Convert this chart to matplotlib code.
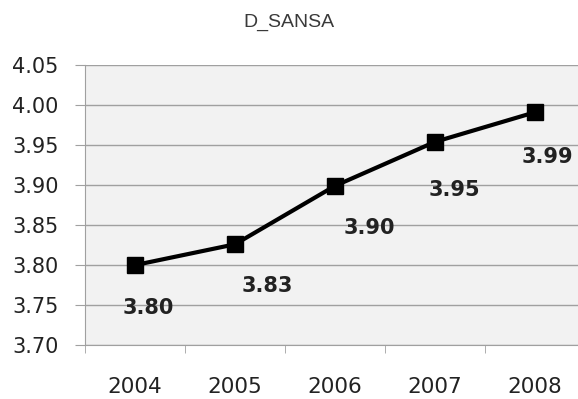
import matplotlib.pyplot as plt

years = ["2004", "2005", "2006", "2007", "2008"]
values = [3.80, 3.826, 3.899, 3.954, 3.991]
labels = ["3.80", "3.83", "3.90", "3.95", "3.99"]
# label offsets (points)
label_dx = [9.4, 23, 25, 13.7, 8.6]
label_dy = [-31, -30, -30, -35, -32]

fig = plt.figure(figsize=(5.78, 3.99), dpi=100)
ax = fig.add_axes([0.147, 0.135, 0.853, 0.702])
ax.set_facecolor("#f2f2f2")

x = list(range(len(years)))
ax.plot(x, values, color="black", lw=3, marker="s", markersize=12, zorder=3)

for xi, v, lab, dx, dy in zip(x, values, labels, label_dx, label_dy):
    ax.annotate(lab, (xi, v), xytext=(dx, dy), textcoords="offset points",
                ha="center", va="center", fontsize=15, fontweight="bold",
                family="DejaVu Sans", color="#222222")

ax.set_ylim(3.70, 4.05)
ax.set_yticks([3.70, 3.75, 3.80, 3.85, 3.90, 3.95, 4.00, 4.05])
ax.set_yticklabels([f"{t:.2f}" for t in ax.get_yticks()])
ax.set_xlim(-0.5, 4.43)
ax.set_xticks(x)
ax.set_xticklabels(years)
ax.set_xticks([-0.5, 0.5, 1.5, 2.5, 3.5], minor=True)

ax.grid(axis="y", color="#a0a0a0", lw=1)
ax.set_axisbelow(True)
for s in ["top", "right"]:
    ax.spines[s].set_visible(False)
for s in ["left", "bottom"]:
    ax.spines[s].set_color("#a0a0a0")

ax.tick_params(axis="y", length=7, color="#a0a0a0", labelsize=15, pad=12, labelcolor="#222222")
ax.tick_params(axis="x", which="major", length=0, labelsize=15.5, pad=23, labelcolor="#222222")
ax.tick_params(axis="x", which="minor", length=6, color="#a0a0a0")

fig.suptitle("D_SANSA", y=0.965, fontsize=14, family="Liberation Sans", color="#3a3a3a")

fig.savefig("out.png", dpi=100)
